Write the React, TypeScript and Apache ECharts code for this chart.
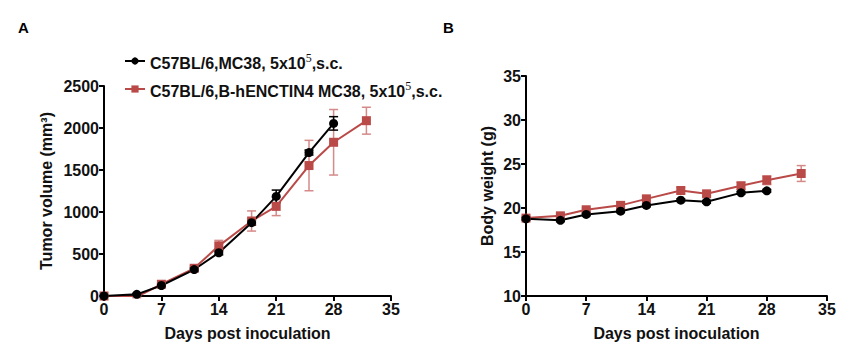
import React, { useEffect, useRef } from "react";
import * as echarts from "echarts";

const daysBlack = [0, 4, 7, 11, 14, 18, 21, 25, 28];
const daysRed = [0, 4, 7, 11, 14, 18, 21, 25, 28, 32];

const tumorBlack = [0, 20, 125, 315, 515, 873, 1186, 1708, 2055];
const tumorBlackErr = [5, 10, 15, 20, 25, 30, 75, 30, 80];
const tumorRed = [0, -10, 140, 330, 597, 893, 1067, 1553, 1830, 2087];
const tumorRedErr = [5, 10, 20, 30, 65, 120, 110, 300, 390, 160];

const weightBlack = [18.77, 18.6, 19.27, 19.64, 20.29, 20.89, 20.7, 21.72, 21.95];
const weightBlackErr = [0.15, 0.15, 0.15, 0.15, 0.15, 0.15, 0.15, 0.15, 0.15];
const weightRed = [18.85, 19.11, 19.8, 20.3, 21.04, 21.99, 21.61, 22.52, 23.16, 23.92];
const weightRedErr = [0.2, 0.2, 0.2, 0.4, 0.25, 0.35, 0.25, 0.4, 0.5, 0.9];

const dayTicks = [0, 7, 14, 21, 28, 35];

const nameBlack = "C57BL/6,MC38, 5x10^5,s.c.";
const nameRed = "C57BL/6,B-hENCTIN4 MC38, 5x10^5,s.c.";

const BLACK = "#000000";
const RED = "#b94a48";
const RED_ERR = "#d48a88";
const FONT = "Liberation Sans, Arial, sans-serif";
const FS = 16;

function zip(xs: number[], ys: number[]) {
  return xs.map((x, i) => [x, ys[i]]);
}
function errData(xs: number[], ys: number[], es: number[]) {
  return xs.map((x, i) => [x, ys[i] - es[i], ys[i] + es[i]]);
}

function errSeries(data: number[][], color: string, xi: number, yi: number) {
  return {
    type: "custom",
    xAxisIndex: xi,
    yAxisIndex: yi,
    z: 1,
    silent: true,
    encode: { x: 0, y: [1, 2] },
    data,
    renderItem: (params: any, api: any) => {
      const x = api.value(0);
      const lo = api.coord([x, api.value(1)]);
      const hi = api.coord([x, api.value(2)]);
      const w = 4.5;
      const style = { stroke: color, lineWidth: 1.5 };
      return {
        type: "group",
        children: [
          { type: "line", shape: { x1: hi[0], y1: hi[1], x2: lo[0], y2: lo[1] }, style },
          { type: "line", shape: { x1: hi[0] - w, y1: hi[1], x2: hi[0] + w, y2: hi[1] }, style },
          { type: "line", shape: { x1: lo[0] - w, y1: lo[1], x2: lo[0] + w, y2: lo[1] }, style },
        ],
      };
    },
  };
}

const labelStyle = { fontFamily: FONT, fontWeight: "bold", fontSize: FS, color: "#111" };

function xAxisCfg(gridIndex: number) {
  return {
    type: "value",
    gridIndex,
    min: 0,
    max: 35,
    interval: 7,
    name: "Days post inoculation",
    nameLocation: "middle",
    nameGap: 29,
    nameTextStyle: labelStyle,
    axisLine: { show: true, lineStyle: { color: "#000", width: 2 } },
    axisTick: { show: true, length: 5, lineStyle: { color: "#000", width: 2 } },
    axisLabel: { ...labelStyle, margin: 5, customValues: dayTicks },
    splitLine: { show: false },
  };
}

function yAxisCfg(gridIndex: number, min: number, max: number, interval: number, name: string, nameGap: number) {
  return {
    type: "value",
    gridIndex,
    min,
    max,
    interval,
    name,
    nameLocation: "middle",
    nameGap,
    nameTextStyle: labelStyle,
    axisLine: { show: true, lineStyle: { color: "#000", width: 2 } },
    axisTick: { show: true, length: 5, lineStyle: { color: "#000", width: 2 } },
    axisLabel: { ...labelStyle, margin: 5, formatter: (v: number) => String(v) },
    splitLine: { show: false },
  };
}

function lineSeries(name: string, data: number[][], color: string, symbol: string, size: number, xi: number, yi: number) {
  return {
    type: "line",
    name,
    xAxisIndex: xi,
    yAxisIndex: yi,
    z: 3,
    data,
    symbol,
    symbolSize: size,
    showAllSymbol: true,
    lineStyle: { color, width: 2 },
    itemStyle: { color, borderWidth: 0 },
  };
}

export default function App() {
  const ref = useRef<HTMLDivElement>(null);
  useEffect(() => {
    document.body.style.margin = "0";
    const chart = echarts.init(ref.current!, null, { renderer: "svg" });
    chart.setOption({
      animation: false,
      backgroundColor: "#ffffff",
      grid: [
        { left: 104, right: 457, top: 86, bottom: 60 },
        { left: 526, right: 21, top: 76, bottom: 60 },
      ],
      xAxis: [xAxisCfg(0), xAxisCfg(1)],
      yAxis: [
        yAxisCfg(0, 0, 2500, 500, "Tumor volume (mm³)", 50),
        yAxisCfg(1, 10, 35, 5, "Body weight (g)", 31),
      ],
      legend: {
        data: [nameBlack, nameRed],
        orient: "vertical",
        left: 119,
        top: 46,
        itemWidth: 20,
        itemHeight: 9,
        itemGap: 8,
        selectedMode: false,
        formatter: (n: string) => {
          const [a, b] = n.split("^5");
          return "{t|" + a + "}{sup|5}{t|" + b + "}";
        },
        textStyle: {
          rich: {
            t: { fontFamily: FONT, fontWeight: "bold", fontSize: 16, color: "#111", lineHeight: 18, padding: [4, 0, 0, 0] },
            sup: { fontFamily: "Liberation Serif, serif", fontSize: 12, color: "#111", lineHeight: 18, padding: [0, 0, 6, 0] },
          },
        },
      },
      graphic: [
        { type: "text", left: 18, top: 20, style: { text: "A", fontFamily: FONT, fontWeight: "bold", fontSize: 15, fill: "#000" } },
        { type: "text", left: 443, top: 20, style: { text: "B", fontFamily: FONT, fontWeight: "bold", fontSize: 15, fill: "#000" } },
      ],
      series: [
        errSeries(errData(daysRed, tumorRed, tumorRedErr), RED_ERR, 0, 0),
        errSeries(errData(daysBlack, tumorBlack, tumorBlackErr), BLACK, 0, 0),
        lineSeries(nameRed, zip(daysRed, tumorRed), RED, "rect", 9, 0, 0),
        lineSeries(nameBlack, zip(daysBlack, tumorBlack), BLACK, "circle", 9, 0, 0),
        errSeries(errData(daysRed, weightRed, weightRedErr), RED_ERR, 1, 1),
        errSeries(errData(daysBlack, weightBlack, weightBlackErr), BLACK, 1, 1),
        lineSeries(nameRed, zip(daysRed, weightRed), RED, "rect", 9, 1, 1),
        lineSeries(nameBlack, zip(daysBlack, weightBlack), BLACK, "circle", 9, 1, 1),
      ],
    });
    return () => chart.dispose();
  }, []);
  return <div ref={ref} style={{ width: 848, height: 356, position: "absolute", left: 0, top: 0 }} />;
}
